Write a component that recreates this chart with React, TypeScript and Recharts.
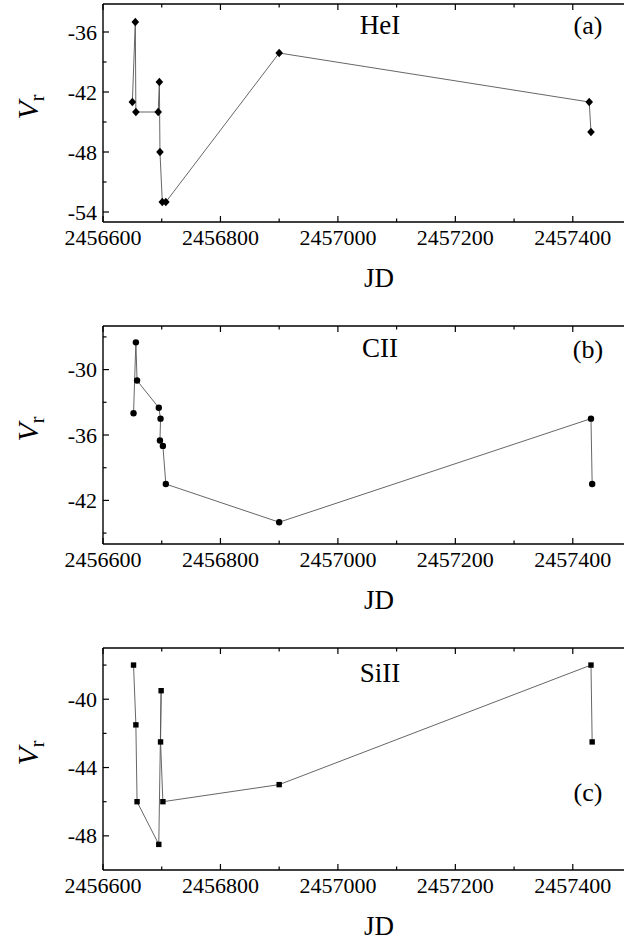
import React from "react";
import { LineChart, Line, XAxis, YAxis, Label } from "recharts";

// Julian Date axis ticks (every 100 d, labelled every 200 d)
const jdTicks = [2456600, 2456700, 2456800, 2456900, 2457000, 2457100, 2457200, 2457300, 2457400, 2457500];
const jdLabels = [2456600, 2456800, 2457000, 2457200, 2457400];

// HeI radial velocities
const heJd = [2456650, 2456655, 2456656, 2456694, 2456696, 2456697, 2456701, 2456707, 2456900, 2457428, 2457431];
const heV = [-43.0, -35.0, -44.0, -44.0, -41.0, -48.0, -53.0, -53.0, -38.1, -43.0, -46.0];
const heTicks = [-54, -51, -48, -45, -42, -39, -36];
const heMajor = [-54, -48, -42, -36];

// CII radial velocities
const cJd = [2456652, 2456656, 2456658, 2456695, 2456698, 2456697, 2456702, 2456707, 2456900, 2457431, 2457433];
const cV = [-34.0, -27.5, -31.0, -33.5, -34.5, -36.5, -37.0, -40.5, -44.0, -34.5, -40.5];
const cTicks = [-45, -42, -39, -36, -33, -30, -27];
const cMajor = [-42, -36, -30];

// SiII radial velocities
const siJd = [2456652, 2456656, 2456658, 2456695, 2456699, 2456698, 2456702, 2456900, 2457431, 2457433];
const siV = [-38.0, -41.5, -46.0, -48.5, -39.5, -42.5, -46.0, -45.0, -38.0, -42.5];
const siTicks = [-48, -46, -44, -42, -40, -38];
const siMajor = [-48, -44, -40];

const FONT = "Liberation Serif, Times New Roman, serif";
const CHART_W = 660;
const JD_MIN = 2456600;
const JD_MAX = 2457540;

type Kind = "diamond" | "circle" | "square";

function toRows(jd: number[], v: number[]) {
  return jd.map((x, i) => ({ jd: x, v: v[i] }));
}

function marker(kind: Kind) {
  return (p: any) => {
    const { cx, cy, index } = p;
    if (cx == null || cy == null) return <g key={`m${index}`} />;
    if (kind === "diamond")
      return (
        <path
          key={`m${index}`}
          d={`M${cx},${cy - 4.3}L${cx + 3.8},${cy}L${cx},${cy + 4.3}L${cx - 3.8},${cy}Z`}
          fill="#000"
        />
      );
    if (kind === "circle") return <circle key={`m${index}`} cx={cx} cy={cy} r={3.2} fill="#000" />;
    return <rect key={`m${index}`} x={cx - 2.7} y={cy - 2.7} width={5.4} height={5.4} fill="#000" />;
  };
}

function BottomTick(p: any) {
  const { x, y, payload } = p;
  const major = jdLabels.includes(payload.value);
  return (
    <g>
      <line x1={x} x2={x} y1={y} y2={y - (major ? 6 : 3.5)} stroke="#000" strokeWidth={1.2} />
      {major && (
        <text x={x} y={y + 23} textAnchor="middle" fontSize={22} style={{ fontFamily: FONT }} fill="#000">
          {payload.value}
        </text>
      )}
    </g>
  );
}

function TopTick(p: any) {
  const { x, y, payload } = p;
  const major = jdLabels.includes(payload.value);
  return <line x1={x} x2={x} y1={y} y2={y + (major ? 6 : 3.5)} stroke="#000" strokeWidth={1.2} />;
}

function leftTick(major: number[]) {
  return (p: any) => {
    const { x, y, payload } = p;
    const isMajor = major.includes(payload.value);
    return (
      <g>
        <line x1={x} x2={x + (isMajor ? 6 : 3.5)} y1={y} y2={y} stroke="#000" strokeWidth={1.2} />
        {isMajor && (
          <text x={x - 6} y={y + 7.5} textAnchor="end" fontSize={22} style={{ fontFamily: FONT }} fill="#000">
            {payload.value}
          </text>
        )}
      </g>
    );
  };
}

function Panel(props: {
  top: number;
  plotH: number;
  rows: { jd: number; v: number }[];
  domain: [number, number];
  ticks: number[];
  major: number[];
  kind: Kind;
  name: string;
  nameY: number;
  tag: string;
  tagY: number;
}) {
  const { top, plotH, rows, domain, ticks, major, kind, name, nameY, tag, tagY } = props;
  const height = 3 + 1 + plotH + 40 + 40;
  return (
    <div style={{ position: "absolute", left: 0, top, width: CHART_W, height }}>
      <LineChart width={CHART_W} height={height} data={rows} margin={{ top: 3, right: 5, bottom: 40, left: 102 }}>
        <XAxis
          xAxisId="b"
          dataKey="jd"
          type="number"
          domain={[JD_MIN, JD_MAX]}
          ticks={jdTicks}
          interval={0}
          height={40}
          tickSize={0}
          tickMargin={0}
          tickLine={false}
          tick={<BottomTick />}
          axisLine={{ stroke: "#000", strokeWidth: 1.4 }}
        >
          <Label
            content={(lp: any) => {
              const vb = lp.viewBox;
              return (
                <text
                  x={vb.x + vb.width / 2}
                  y={vb.y + 65}
                  textAnchor="middle"
                  fontSize={27}
                  style={{ fontFamily: FONT }}
                  fill="#000"
                >
                  JD
                </text>
              );
            }}
          />
        </XAxis>
        <XAxis
          xAxisId="t"
          dataKey="jd"
          type="number"
          orientation="top"
          domain={[JD_MIN, JD_MAX]}
          ticks={jdTicks}
          interval={0}
          height={1}
          tickSize={0}
          tickMargin={0}
          tickLine={false}
          tick={<TopTick />}
          axisLine={{ stroke: "#000", strokeWidth: 1.4 }}
        />
        <YAxis
          type="number"
          domain={domain}
          ticks={ticks}
          interval={0}
          width={1}
          tickSize={0}
          tickMargin={0}
          tickLine={false}
          tick={leftTick(major)}
          axisLine={{ stroke: "#000", strokeWidth: 1.4 }}
        >
          <Label
            content={(lp: any) => {
              const vb = lp.viewBox;
              const cx = 38;
              const cy = vb.y + vb.height / 2 - 6;
              return (
                <text
                  x={cx}
                  y={cy}
                  transform={`rotate(-90 ${cx} ${cy})`}
                  textAnchor="middle"
                  style={{ fontFamily: FONT }}
                  fill="#000"
                >
                  <tspan fontSize={30} fontStyle="italic">V</tspan>
                  <tspan fontSize={20} dy={6}>r</tspan>
                </text>
              );
            }}
          />
        </YAxis>
        <Line
          xAxisId="b"
          dataKey="v"
          type="linear"
          stroke="#555"
          strokeWidth={0.9}
          dot={marker(kind)}
          activeDot={false}
          isAnimationActive={false}
        />
      </LineChart>
      <svg width={CHART_W} height={height} style={{ position: "absolute", left: 0, top: 0, pointerEvents: "none" }}>
        <text x={380} y={nameY} textAnchor="middle" fontSize={27} style={{ fontFamily: FONT }} fill="#000">
          {name}
        </text>
        <text x={588} y={tagY} textAnchor="middle" fontSize={26} style={{ fontFamily: FONT }} fill="#000">
          {tag}
        </text>
      </svg>
    </div>
  );
}

export default function App() {
  return (
    <div
      style={{
        position: "fixed",
        left: 0,
        top: 0,
        width: 624,
        height: 942,
        overflow: "hidden",
        background: "#fff",
      }}
    >
      <Panel
        top={0}
        plotH={218}
        rows={toRows(heJd, heV)}
        domain={[-55, -33.2]}
        ticks={heTicks}
        major={heMajor}
        kind="diamond"
        name="HeI"
        nameY={34}
        tag="(a)"
        tagY={34}
      />
      <Panel
        top={322}
        plotH={218}
        rows={toRows(cJd, cV)}
        domain={[-46, -26]}
        ticks={cTicks}
        major={cMajor}
        kind="circle"
        name="CII"
        nameY={35}
        tag="(b)"
        tagY={36}
      />
      <Panel
        top={644}
        plotH={222}
        rows={toRows(siJd, siV)}
        domain={[-50, -37]}
        ticks={siTicks}
        major={siMajor}
        kind="square"
        name="SiII"
        nameY={38}
        tag="(c)"
        tagY={157}
      />
    </div>
  );
}
